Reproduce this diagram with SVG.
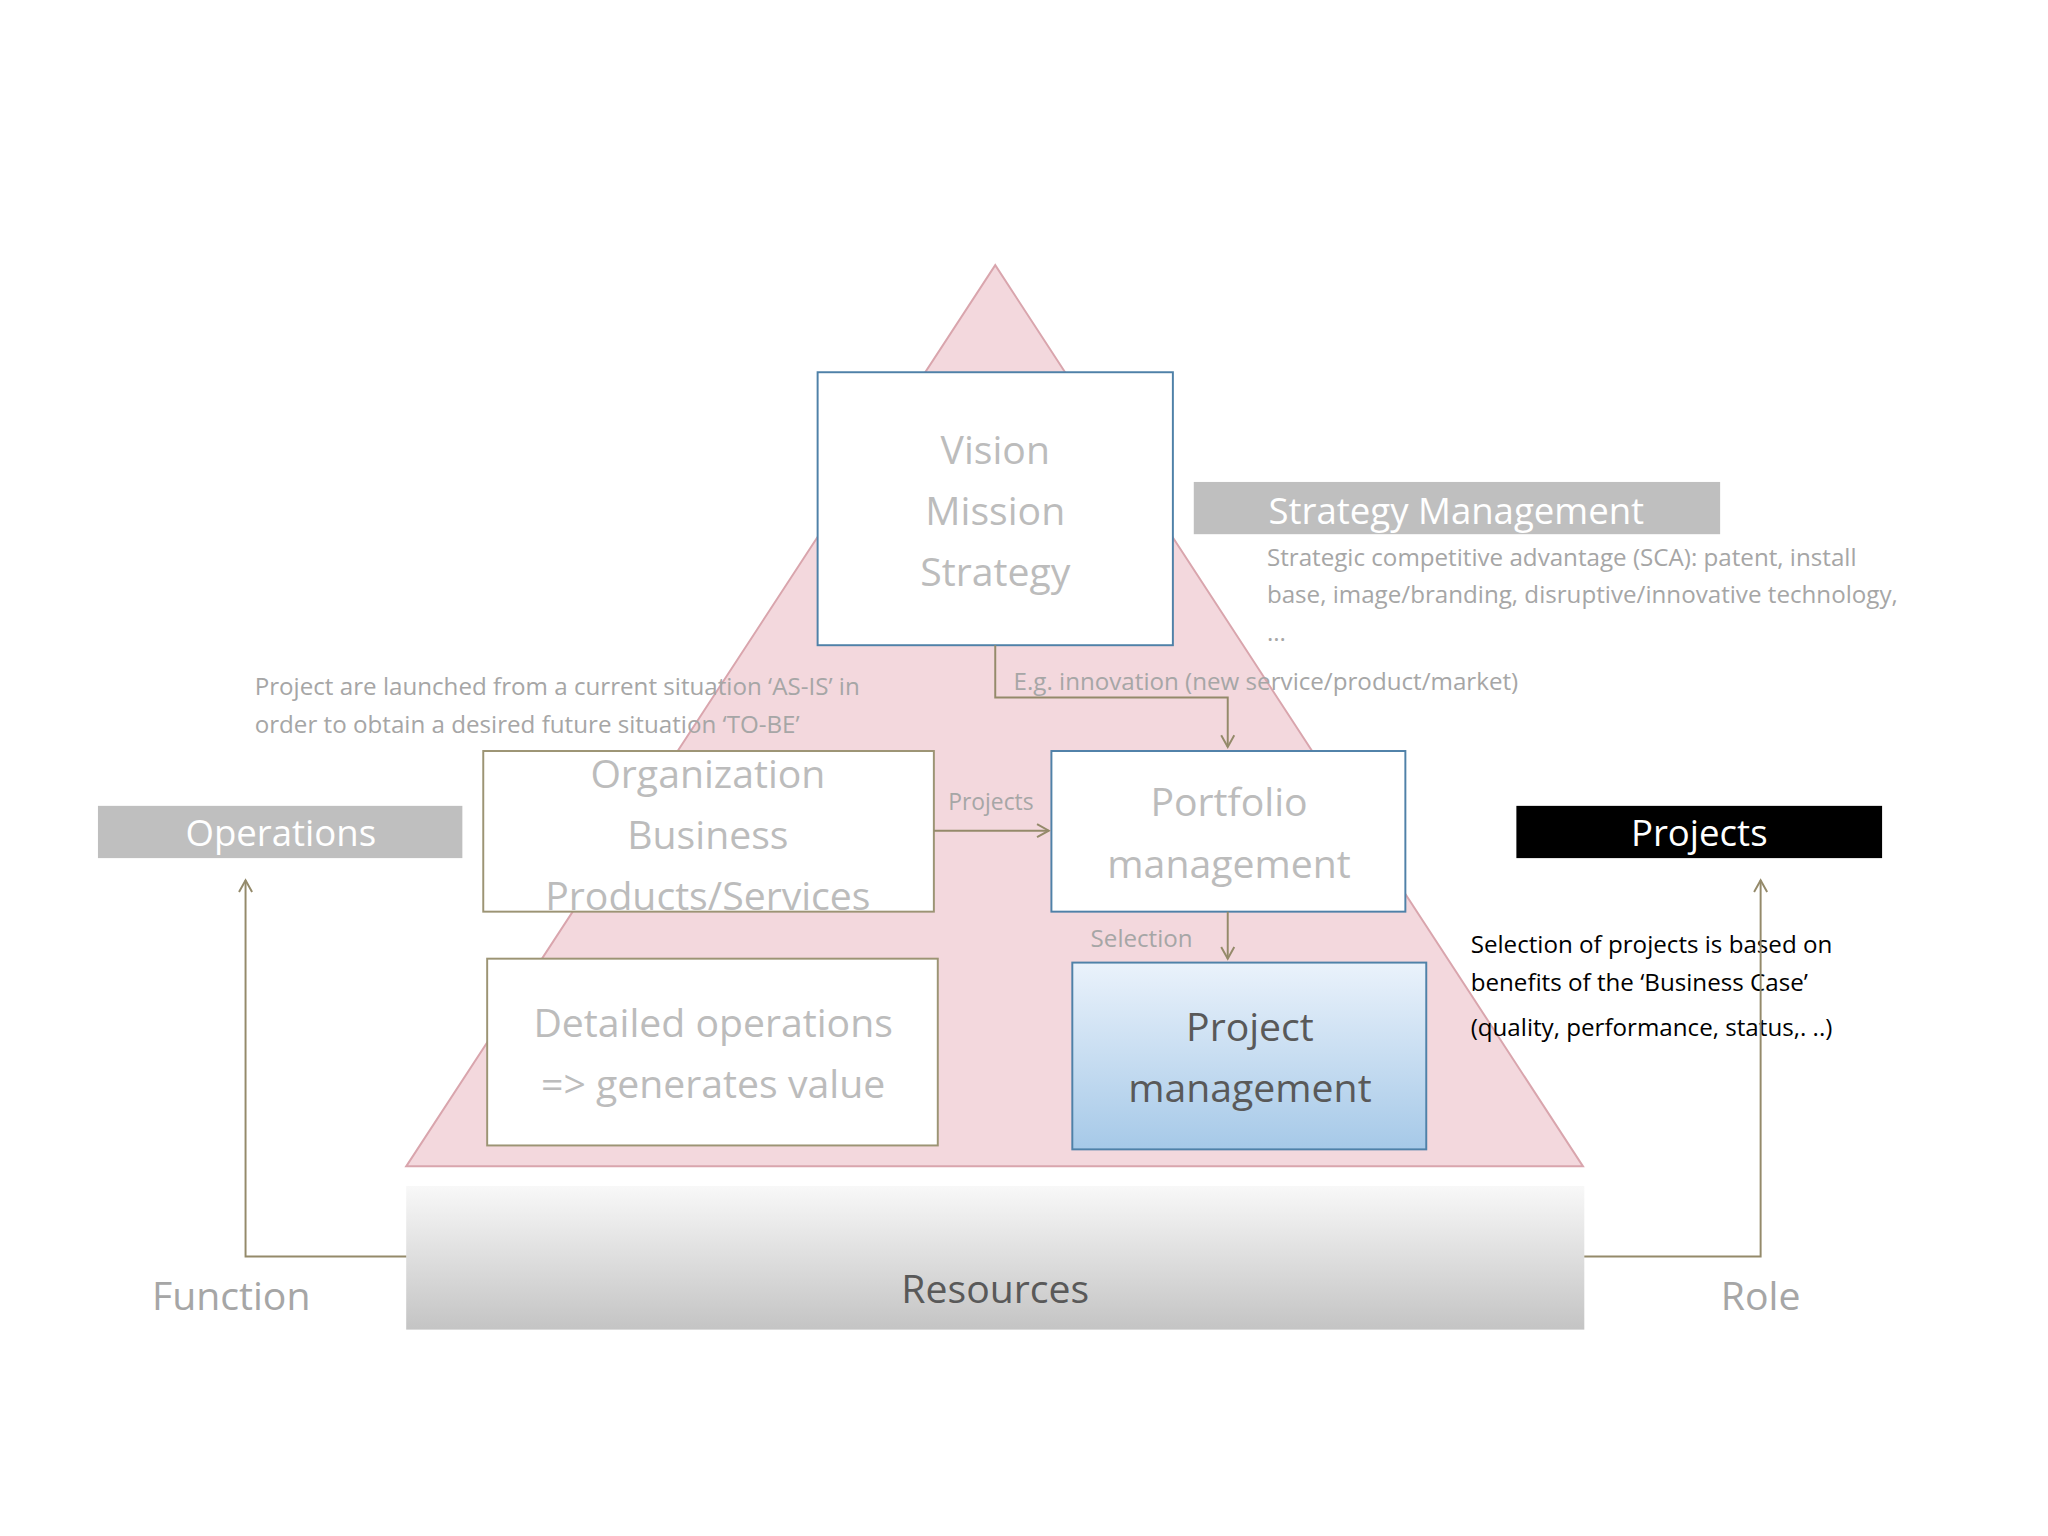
<svg xmlns="http://www.w3.org/2000/svg" width="2048" height="1536" viewBox="0 0 2048 1536">
<style>
.b{font-family:"Open Sans","Liberation Sans",sans-serif;text-anchor:middle;font-size:30px;fill:#bcbcbc}
.s{font-family:"Open Sans","Liberation Sans",sans-serif;font-size:18.5px;fill:#a6a6a6}
.c{fill:none;stroke:#948a6a;stroke-width:1.5}
</style>
<defs>
<marker id="a" markerWidth="12" markerHeight="12" refX="10" refY="6" orient="auto" markerUnits="userSpaceOnUse"><path d="M1,1 L10,6 L1,11" fill="none" stroke="#948a6a" stroke-width="1.5"/></marker>
<linearGradient id="pm" x1="0" y1="0" x2="0" y2="1"><stop offset="0" stop-color="#eaf2fb"/><stop offset="1" stop-color="#a6c9e8"/></linearGradient>
<linearGradient id="rs" x1="0" y1="0" x2="0" y2="1"><stop offset="0" stop-color="#f8f8f8"/><stop offset="1" stop-color="#c4c4c4"/></linearGradient>
</defs>
<rect width="2048" height="1536" fill="#fff"/>
<g transform="scale(1.3061)">
<g id="pyramid"><polygon points="762,203 1212,893 311,893" fill="#f3d8dd" stroke="#d9a5ad" stroke-width="1.5"/></g>
<g id="resources"><rect x="311" y="908" width="902" height="110" fill="url(#rs)"/><text class="b" x="762" y="998" style="fill:#595959">Resources</text></g>
<g id="vision"><rect x="626" y="285" width="272" height="209" fill="#fff" stroke="#4f81a8" stroke-width="1.5"/>
<text class="b" x="762" y="355">Vision</text><text class="b" x="762" y="402">Mission</text><text class="b" x="762" y="449">Strategy</text></g>
<g id="strategy"><rect x="914" y="369" width="403" height="40" fill="#bfbfbf"/><text class="b" x="1115" y="401" style="fill:#fff;font-size:28px">Strategy Management</text>
<text class="s" x="970" y="433">Strategic competitive advantage (SCA): patent, install</text>
<text class="s" x="970" y="462">base, image/branding, disruptive/innovative technology,</text>
<text class="s" x="970" y="491">...</text></g>
<g id="asis"><text class="s" x="195" y="532">Project are launched from a current situation ‘AS-IS’ in</text>
<text class="s" x="195" y="561">order to obtain a desired future situation ‘TO-BE’</text></g>
<g id="org"><rect x="370" y="575" width="345" height="123" fill="#fff" stroke="#9c9474" stroke-width="1.5"/>
<text class="b" x="542" y="603">Organization</text><text class="b" x="542" y="650">Business</text><text class="b" x="542" y="697">Products/Services</text></g>
<g id="portfolio"><rect x="805" y="575" width="271" height="123" fill="#fff" stroke="#4f81a8" stroke-width="1.5"/>
<text class="b" x="941" y="625">Portfolio</text><text class="b" x="941" y="672">management</text></g>
<g id="detailed"><rect x="373" y="734" width="345" height="143" fill="#fff" stroke="#9c9474" stroke-width="1.5"/>
<text class="b" x="546" y="794">Detailed operations</text><text class="b" x="546" y="841">=&gt; generates value</text></g>
<g id="projmgmt"><rect x="821" y="737" width="271" height="143" fill="url(#pm)" stroke="#4f81a8" stroke-width="1.5"/>
<text class="b" x="957" y="797" style="fill:#595959">Project</text><text class="b" x="957" y="844" style="fill:#595959">management</text></g>
<g id="operations"><rect x="75" y="617" width="279" height="40" fill="#bfbfbf"/><text class="b" x="215" y="648" style="fill:#fff;font-size:28px">Operations</text></g>
<g id="projects"><rect x="1161" y="617" width="280" height="40" fill="#000"/><text class="b" x="1301" y="648" style="fill:#fff;font-size:28px">Projects</text></g>
<g id="labels">
<text class="b" x="177" y="1003" style="fill:#a6a6a6">Function</text>
<text class="b" x="1348" y="1003" style="fill:#a6a6a6">Role</text>
<text class="s" x="1126" y="730" style="fill:#000">Selection of projects is based on</text>
<text class="s" x="1126" y="759" style="fill:#000">benefits of the ‘Business Case’</text>
<text class="s" x="1126" y="793" style="fill:#000">(quality, performance, status,. ..)</text>
</g>
<g id="connectors">
<path class="c" d="M762,494 V534 H940 V572" marker-end="url(#a)"/>
<text class="s" x="776" y="528">E.g. innovation (new service/product/market)</text>
<path class="c" d="M715,636 H803" marker-end="url(#a)"/>
<text class="s" x="726" y="620" style="font-size:17.5px">Projects</text>
<path class="c" d="M940,698 V734" marker-end="url(#a)"/>
<text class="s" x="835" y="725">Selection</text>
<path class="c" d="M311,962 H188 V674" marker-end="url(#a)"/>
<path class="c" d="M1213,962 H1348 V674" marker-end="url(#a)"/>
</g>
</g>
</svg>
